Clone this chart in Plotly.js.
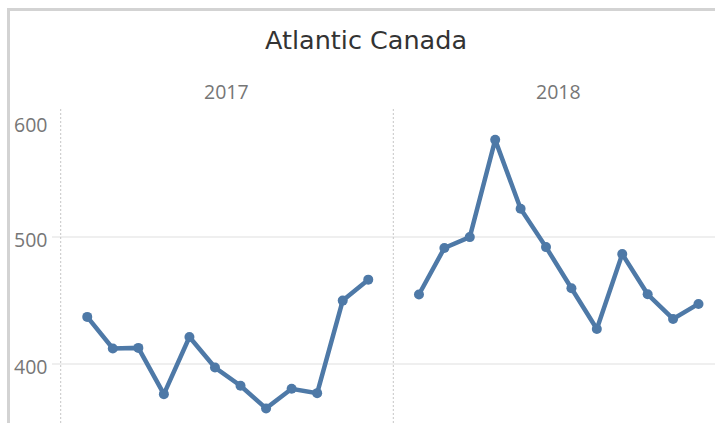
<!DOCTYPE html>
<html>
<head>
<meta charset="utf-8">
<script src="https://cdn.plot.ly/plotly-3.0.1.min.js"></script>
<style>
html,body{margin:0;padding:0;background:#fff;}
#chart{width:715px;height:423px;}
</style>
</head>
<body>
<div id="chart"></div>
<script>
// ---- data ----
const chartTitle = "Atlantic Canada";
const years = ["2017", "2018"];
const months = [1, 2, 3, 4, 5, 6, 7, 8, 9, 10, 11, 12];
const values2017 = [437.2, 412.3, 412.8, 376.4, 421.4, 397.4, 383.0, 365.2, 380.6, 377.2, 450.0, 466.5];
const values2018 = [454.8, 491.4, 500.0, 576.5, 522.3, 492.1, 459.7, 427.7, 486.6, 455.0, 435.6, 447.4];
const yTickVals = [400, 500, 600];
const yTickText = ["400", "500", "600"];

// ---- layout helpers ----
const W = 715, H = 423;
const px = v => v / W;
const py = v => (H - v) / H;
const blue = "#4e79a7";

const lineStyle = {color: blue, width: 4.5};
const markerStyle = {color: blue, size: 10};

const traces = [
  {x: months, y: values2017, xaxis: "x", yaxis: "y", type: "scatter", mode: "lines+markers",
   line: lineStyle, marker: markerStyle, hoverinfo: "y"},
  {x: months, y: values2018, xaxis: "x2", yaxis: "y", type: "scatter", mode: "lines+markers",
   line: lineStyle, marker: markerStyle, hoverinfo: "y"}
];

const numFont = {family: "Open Sans, sans-serif", size: 19.5, color: "#767676"};

const annotations = [];
// column headers
const headerX = [226.7, 558];
years.forEach((yr, i) => {
  annotations.push({text: yr, xref: "paper", yref: "paper", x: px(headerX[i]), y: py(92),
    xanchor: "center", yanchor: "middle", showarrow: false, font: numFont});
});
// y tick labels (top one drawn inside the pane, like the reference)
yTickVals.forEach((v, i) => {
  annotations.push({text: yTickText[i], xref: "paper", yref: "y", x: px(49), y: v,
    xanchor: "right", yanchor: "middle", showarrow: false, font: numFont,
    yshift: (i === yTickVals.length - 1) ? -14 : -2});
});

const shapes = [
  // outer frame (top and left)
  {type: "line", xref: "paper", yref: "paper", x0: px(7), x1: 1, y0: py(9.5), y1: py(9.5),
   line: {color: "#d3d3d3", width: 3}},
  {type: "line", xref: "paper", yref: "paper", x0: px(8.5), x1: px(8.5), y0: py(8), y1: 0,
   line: {color: "#d3d3d3", width: 3}},
  // pane dividers (dotted)
  {type: "line", xref: "paper", yref: "paper", x0: px(60.7), x1: px(60.7), y0: py(109), y1: 0,
   line: {color: "#c6c6c6", width: 1, dash: "2px,2px"}},
  {type: "line", xref: "paper", yref: "paper", x0: px(393.3), x1: px(393.3), y0: py(109), y1: 0,
   line: {color: "#c6c6c6", width: 1, dash: "2px,2px"}}
];

const layout = {
  width: W, height: H,
  margin: {l: 0, r: 0, t: 0, b: 0, pad: 0},
  paper_bgcolor: "#fff", plot_bgcolor: "#fff",
  showlegend: false,
  title: {text: chartTitle, x: px(366), xanchor: "center", y: py(40), yanchor: "middle",
          xref: "paper", yref: "paper",
          font: {family: "DejaVu Sans, sans-serif", size: 25.5, color: "#333333"}},
  xaxis: {domain: [px(52), px(393.3)], range: [-0.38, 12.98], showgrid: false, zeroline: false,
          showticklabels: false, ticks: "", showline: false, fixedrange: true},
  xaxis2: {domain: [px(393.3), 1], range: [-0.01, 12.65], anchor: "y", showgrid: false, zeroline: false,
           showticklabels: false, ticks: "", showline: false, fixedrange: true},
  yaxis: {domain: [0, py(109.5)], range: [353.7, 600.4], tickvals: yTickVals, showticklabels: false,
          showgrid: true, gridcolor: "#efefef", gridwidth: 1.5, zeroline: false, ticks: "",
          showline: false, fixedrange: true},
  annotations: annotations,
  shapes: shapes
};

Plotly.newPlot("chart", traces, layout, {displayModeBar: false, staticPlot: true});
</script>
</body>
</html>
